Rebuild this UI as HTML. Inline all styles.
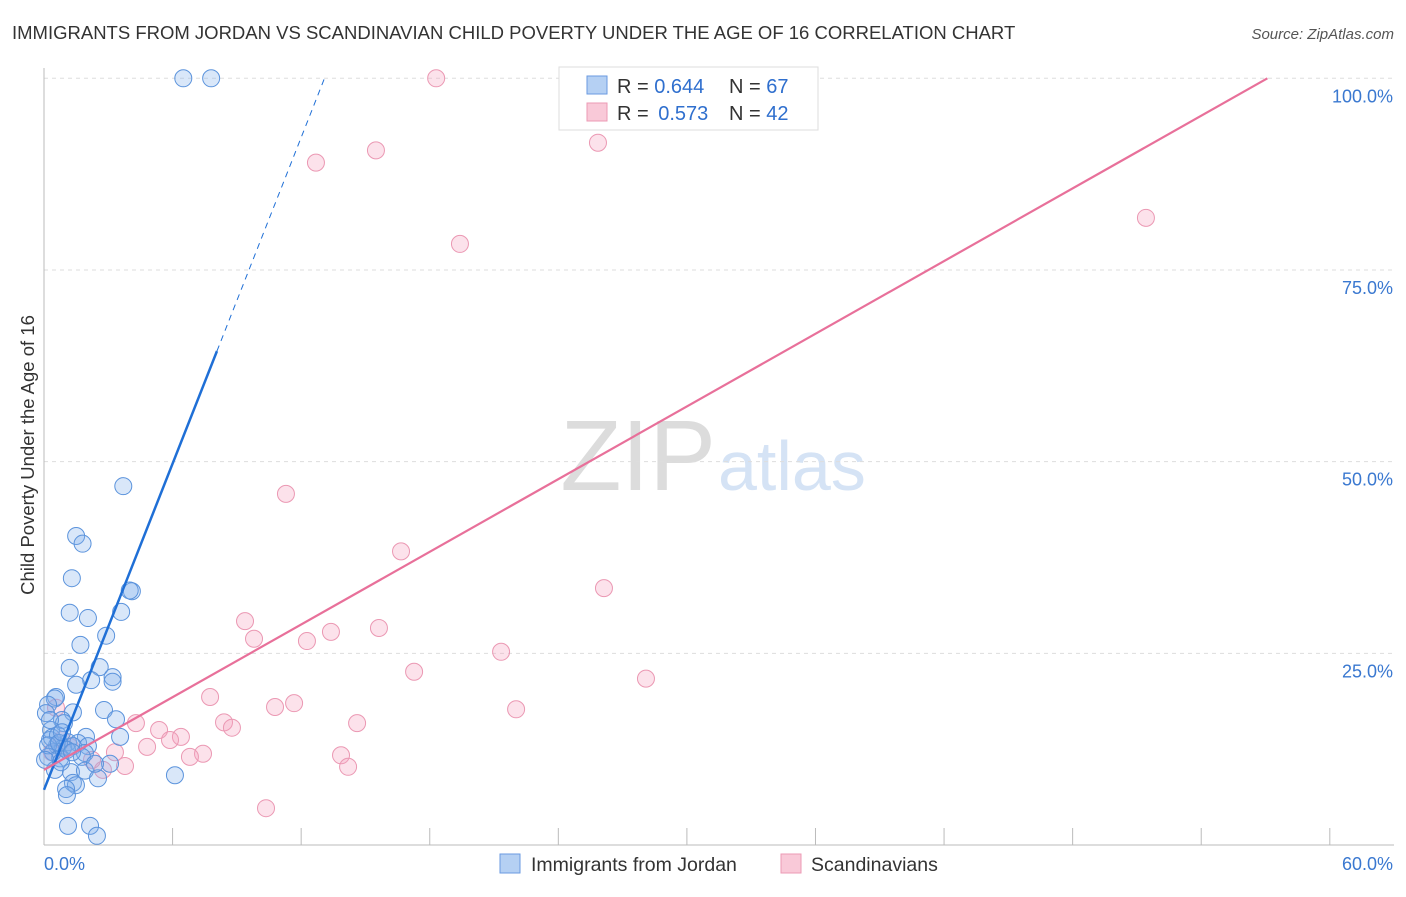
<!DOCTYPE html>
<html><head><meta charset="utf-8"><style>
body{margin:0;background:#fff;font-family:"Liberation Sans",sans-serif;}
svg text{font-family:"Liberation Sans",sans-serif;}
</style></head><body>
<svg id="c" width="1406" height="892" xmlns="http://www.w3.org/2000/svg">
<text x="12" y="39" font-size="18.5" fill="#333">IMMIGRANTS FROM JORDAN VS SCANDINAVIAN CHILD POVERTY UNDER THE AGE OF 16 CORRELATION CHART</text>
<text x="1394" y="39" font-size="15" fill="#555" font-style="italic" text-anchor="end">Source: ZipAtlas.com</text>
<text x="716" y="490" font-size="100" fill="#dcdcdc" font-family="Liberation Serif,serif" text-anchor="end">ZIP</text>
<text x="718" y="490" font-size="70" fill="#d5e3f5">atlas</text>
<text transform="translate(34,455) rotate(-90)" font-size="18.5" fill="#333" text-anchor="middle">Child Poverty Under the Age of 16</text>
<g id="grid"></g><g id="marks"></g>
<g>
<rect x="559" y="67" width="259" height="63" fill="#fff" stroke="#ddd"/>
<rect x="587" y="76" width="20" height="18" fill="#b5d0f3" stroke="#6a9ae0"/>
<rect x="587" y="103" width="20" height="18" fill="#f9c9d8" stroke="#ec9ab4"/>
<text x="617" y="93" font-size="20" fill="#333">R = <tspan fill="#2f6fce">0.644</tspan><tspan x="729">N = </tspan><tspan fill="#2f6fce">67</tspan></text>
<text x="617" y="120" font-size="20" fill="#333">R = <tspan fill="#2f6fce" dx="4">0.573</tspan><tspan x="729">N = </tspan><tspan fill="#2f6fce">42</tspan></text>
</g>
<g>
<rect x="500" y="854" width="20" height="19" fill="#b5d0f3" stroke="#6a9ae0"/>
<text x="531" y="871" font-size="19.5" fill="#333">Immigrants from Jordan</text>
<rect x="781" y="854" width="20" height="19" fill="#f9c9d8" stroke="#ec9ab4"/>
<text x="811" y="871" font-size="19.5" fill="#333">Scandinavians</text>
</g>
</svg>
<script>
const blueX=[6.5,7.8,3.7,1.5,1.8,1.3,4.1,4.0,1.2,2.05,3.6,2.9,1.7,1.2,2.6,2.2,3.2,3.2,1.5,0.56,0.5,0.19,2.8,1.35,3.36,0.84,0.93,3.55,0.33,0.28,1.96,1.12,1.59,0.61,0.89,1.35,2.05,0.42,1.91,0.75,0.19,1.77,3.08,0.51,1.26,1.91,2.52,1.35,1.49,1.03,1.07,6.11,1.12,2.15,2.47,0.37,0.65,0.09,0.19,0.7,0.05,0.79,2.38,1.07,1.31,0.84,0.28];
const blueY=[100,100,46.8,40.3,39.3,34.8,33.1,33.2,30.3,29.6,30.4,27.3,26.1,23.1,23.2,21.5,21.9,21.3,20.9,19.3,19.1,18.3,17.6,17.3,16.4,16.3,15.9,14.1,15.0,13.7,14.1,13.4,13.3,13.0,12.7,12.9,12.9,12.1,12.0,11.3,11.5,11.5,10.6,9.8,9.5,9.7,8.7,8.1,7.8,7.3,6.5,9.1,2.5,2.5,1.2,14.0,14.3,17.2,13.0,13.3,11.1,10.8,10.6,12.4,12.1,14.7,16.3];
const pinkX=[18.3,25.85,15.49,12.69,19.41,51.42,11.29,16.66,26.13,9.38,9.8,13.39,12.27,15.63,21.33,17.27,28.09,7.75,11.67,10.78,22.03,0.56,4.29,8.4,14.61,8.77,5.37,6.39,5.88,4.81,3.31,7.42,6.81,13.86,14.19,3.78,2.75,10.36,1.21,2.24,0.84,0.37];
const pinkY=[100,91.6,90.6,89.0,78.4,81.8,45.8,38.3,33.5,29.2,26.9,27.8,26.6,28.3,25.2,22.6,21.7,19.3,18.5,18.0,17.7,17.9,15.9,16.0,15.9,15.3,15.0,14.1,13.7,12.8,12.1,11.9,11.5,11.7,10.2,10.3,9.8,4.8,12.8,11.1,13.7,12.1];
const blueFit=[7.2,7.09];   // intercept, slope
const pinkFit=[9.8,1.58];
const yTicks=[25,50,75,100];
const xTickVals=[0,6,12,18,24,30,36,42,48,54,60];
const NS='http://www.w3.org/2000/svg';
const sx=v=>44+v*21.43, sy=v=>845-v*7.667;
function mk(tag,attrs,parent){const e=document.createElementNS(NS,tag);for(const k in attrs)e.setAttribute(k,attrs[k]);parent.appendChild(e);return e;}
const grid=document.getElementById('grid'), marks=document.getElementById('marks');
let e;
yTicks.forEach(t=>{
 e=mk('line',{x1:44,x2:1394,y1:sy(t),y2:sy(t),stroke:'#ddd','stroke-dasharray':'4,4'},grid);
 
 
 e=mk('text',{x:1393,y:sy(t)+24,'font-size':18,fill:'#3a78d0','text-anchor':'end'},grid);e.textContent=t.toFixed(1)+'%';
 
 
});
e=mk('line',{x1:44,x2:44,y1:68,y2:845,stroke:'#bbb'},grid);


e=mk('line',{x1:44,x2:1394,y1:845,y2:845,stroke:'#bbb'},grid);


xTickVals.forEach(t=>{e=mk('line',{x1:sx(t),x2:sx(t),y1:828,y2:845,stroke:'#bbb'},grid);
 
 });
e=mk('text',{x:44,y:870,'font-size':18,fill:'#3a78d0'},grid);e.textContent='0.0%';


e=mk('text',{x:1393,y:870,'font-size':18,fill:'#3a78d0','text-anchor':'end'},grid);e.textContent='60.0%';


pinkX.forEach((x,i)=>{e=mk('circle',{cx:sx(x),cy:sy(pinkY[i]),r:8.5,fill:'rgba(244,160,190,0.3)',stroke:'#eb98b3','stroke-width':1},marks);
 
 });
blueX.forEach((x,i)=>{e=mk('circle',{cx:sx(x),cy:sy(blueY[i]),r:8.5,fill:'rgba(130,175,235,0.3)',stroke:'#5b93dc','stroke-width':1},marks);
 
 });
const bEnd=8.07, bTop=(100-blueFit[0])/blueFit[1];
e=mk('line',{x1:sx(0),y1:sy(blueFit[0]),x2:sx(bEnd),y2:sy(blueFit[0]+blueFit[1]*bEnd),stroke:'#1f6fd6','stroke-width':2.5},marks);


e=mk('line',{x1:sx(bEnd),y1:sy(blueFit[0]+blueFit[1]*bEnd),x2:sx(bTop),y2:sy(100),stroke:'#1f6fd6','stroke-width':1,'stroke-dasharray':'6,5'},marks);


const pTop=(100-pinkFit[0])/pinkFit[1];
e=mk('line',{x1:sx(0),y1:sy(pinkFit[0]),x2:sx(pTop),y2:sy(100),stroke:'#e8709a','stroke-width':2.2},marks);


</script>
</body></html>
